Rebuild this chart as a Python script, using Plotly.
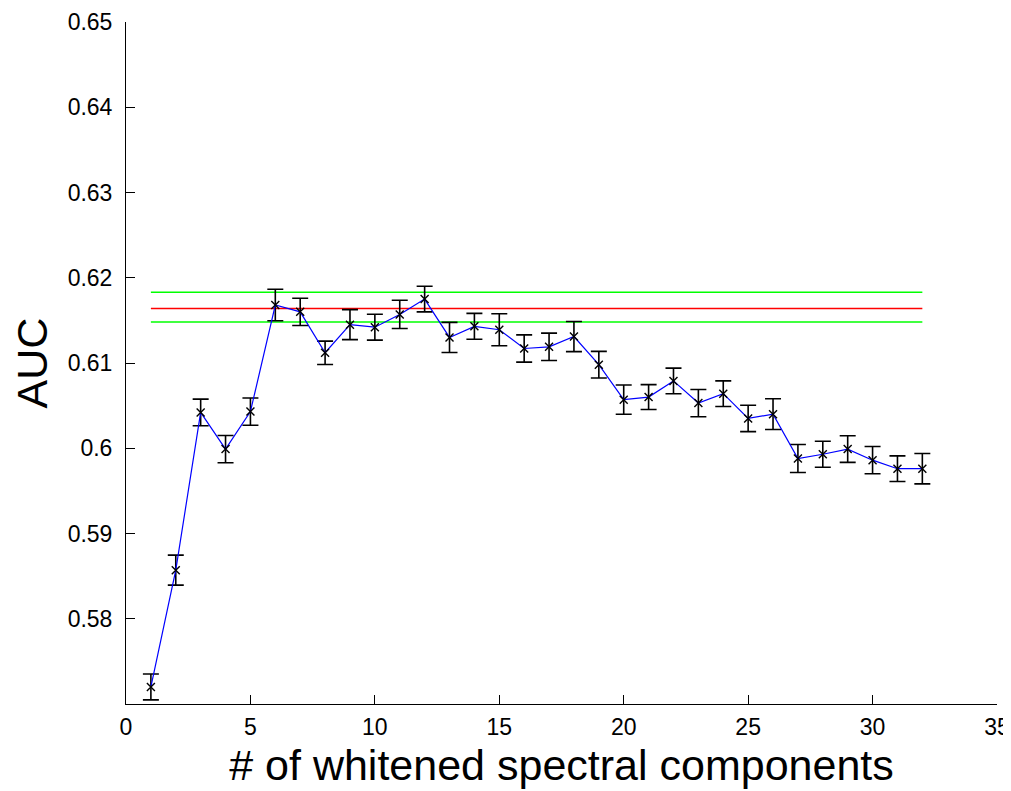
import plotly.graph_objects as go

components = list(range(1, 33))
auc = [0.5720, 0.5857, 0.6042, 0.5999, 0.6043, 0.6168, 0.6160, 0.6112,
       0.6145, 0.6142, 0.6157, 0.6175, 0.6130, 0.6143, 0.6139, 0.6117,
       0.6119, 0.6131, 0.6098, 0.6057, 0.6060, 0.6079, 0.6053, 0.6064,
       0.6035, 0.6040, 0.5988, 0.5993, 0.5999, 0.5986, 0.5976, 0.5976]
auc_err = [0.00152, 0.00176, 0.00156, 0.00160, 0.00160, 0.00185, 0.00160, 0.00137,
           0.00176, 0.00152, 0.00166, 0.00150, 0.00176, 0.00152, 0.00188, 0.00160,
           0.00160, 0.00176, 0.00156, 0.00172, 0.00146, 0.00150, 0.00160, 0.00150,
           0.00155, 0.00180, 0.00164, 0.00152, 0.00156, 0.00160, 0.00150, 0.00178]

ref_x = [1, 32]
ref_mean = 0.6164
ref_upper = 0.6183
ref_lower = 0.6148

x_ticks = [0, 5, 10, 15, 20, 25, 30, 35]
y_ticks = [0.58, 0.59, 0.60, 0.61, 0.62, 0.63, 0.64, 0.65]
y_tick_text = ["0.58", "0.59", "0.6", "0.61", "0.62", "0.63", "0.64", "0.65"]

fig = go.Figure()
fig.add_trace(go.Scatter(x=ref_x, y=[ref_upper] * 2, mode="lines",
                         line=dict(color="#00ff00", width=1.5), showlegend=False))
fig.add_trace(go.Scatter(x=ref_x, y=[ref_mean] * 2, mode="lines",
                         line=dict(color="#ff0000", width=1.5), showlegend=False))
fig.add_trace(go.Scatter(x=ref_x, y=[ref_lower] * 2, mode="lines",
                         line=dict(color="#00ff00", width=1.5), showlegend=False))
fig.add_trace(go.Scatter(
    x=components, y=auc, mode="lines+markers",
    line=dict(color="#0000ff", width=1.2),
    marker=dict(symbol="x-thin", size=8, color="black",
                line=dict(color="black", width=1.4)),
    error_y=dict(type="data", array=auc_err, visible=True,
                 color="black", thickness=1.6, width=8),
    showlegend=False))

fig.update_layout(
    width=1003, height=783,
    margin=dict(l=118, r=14, t=14, b=87),
    paper_bgcolor="white", plot_bgcolor="white",
    font=dict(family="Liberation Sans, Arial, sans-serif", color="black"),
)
fig.update_xaxes(
    range=[0, 35], tickvals=x_ticks, ticks="inside", ticklen=9,
    tickcolor="black", tickwidth=1, showline=True, linecolor="black",
    linewidth=1, showgrid=False, zeroline=False, mirror=False,
    tickfont=dict(size=23), ticklabelstandoff=2, automargin=False,
    title=dict(text="# of whitened spectral components", font=dict(size=43), standoff=11),
)
fig.update_yaxes(
    range=[0.5700, 0.65], tickvals=y_ticks, ticktext=y_tick_text,
    ticks="inside", ticklen=9, tickcolor="black", tickwidth=1,
    showline=True, linecolor="black", linewidth=1, showgrid=False,
    zeroline=False, mirror=False, tickfont=dict(size=23),
    ticklabelstandoff=8, automargin=False,
    title=dict(text="AUC", font=dict(size=43), standoff=16),
)

fig.write_html("out.html")
